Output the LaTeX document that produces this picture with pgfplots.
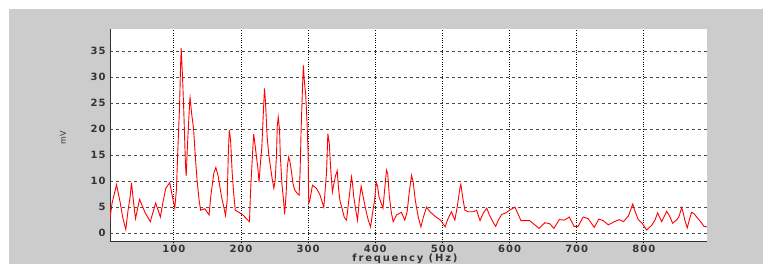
\documentclass[border=0pt]{standalone}
\usepackage{pgfplots}
\pgfplotsset{compat=1.18}
\usepackage{fontspec}
\setmainfont{Liberation Sans}
\newfontfamily\tickfont[LetterSpace=10]{DejaVu Sans}
\definecolor{bggray}{RGB}{204,204,204}
\begin{document}
\begin{tikzpicture}[x=1pt,y=1pt]
\useasboundingbox (0,0) rectangle (763,264);
\fill[white] (0,0) rectangle (763,264);
\fill[bggray] (9,0) rectangle (763,255);
\begin{axis}[
  at={(110pt,22pt)}, anchor=south west,
  scale only axis, width=597pt, height=213pt,
  xmin=5, xmax=894, ymin=-1.7, ymax=39.2,
  axis background/.style={fill=white},
  axis x line*=bottom, axis y line*=left,
  axis line style={-, line width=1pt, black!80},
  xtick={100,200,...,800}, ytick={0,5,...,35},
  major tick length=0pt,
  grid=major,
  major x grid style={black, dotted, line width=0.9pt},
  major y grid style={black!70, dashed, line width=0.7pt},
  tick label style={font=\tickfont\bfseries\fontsize{10}{12}\selectfont, text=black!80},
  /pgf/number format/assume math mode=true,
  xticklabel style={inner sep=0.5pt, yshift=-2.5pt},
  yticklabel style={xshift=-1pt},
  xlabel={frequency (Hz)},
  ylabel={mV},
  xlabel style={font=\tickfont\bfseries\fontsize{10}{12}\selectfont\addfontfeature{LetterSpace=18}, text=black!80, inner sep=0.5pt, at={(axis description cs:0.494,0)}, anchor=base, yshift=-19.3pt},
  ylabel style={font=\tickfont\fontsize{8}{10}\selectfont, text=black!80, at={(axis description cs:0,0.49)}, anchor=center, yshift=47pt},
]
\addplot[red, line width=0.9pt] coordinates {
(5,2.5)(6,3.8)(8,5.7)(14.7,9.3)(20,6)(24,3)(28.5,0.7)(32,4.5)(35,7)(37,9.7)(40,6)(43,2.8)(49,6.5)(57,4)(65,2.2)(73,5.8)(80,3.1)(84,6)(88,8.6)(94,9.7)(99,6.3)(101.5,4.8)(104,8.5)(106,16)(108.5,24)(110,31.6)(111,35.5)(113,30)(115,23)(117.4,13)(118.5,11)(119.7,15)(121.5,19.8)(123.8,25.5)(124.3,26)(126.5,23)(129.5,20)(132,14.8)(134.6,10.3)(137.7,6.3)(140,4.4)(146,4.7)(152.6,3.5)(155,7)(159.6,11.5)(162.6,12.6)(166,11)(171,7)(174.5,5)(177,3.4)(179.5,6.3)(181,14.6)(182.6,19.8)(184.5,18)(187,11.5)(189,8)(191.5,4.4)(198,3.9)(202.8,3.5)(212.7,2.2)(214,7)(215,9.8)(217.7,16.3)(219,19)(221,17)(222.6,15.2)(225,12.7)(227,9.8)(229,13.5)(231,16.3)(232.5,20.7)(235,27.8)(236.5,25.3)(239,18.5)(241.5,15)(244,12.7)(246.4,10.5)(249,8.6)(251,10.2)(253,15.2)(254,20.4)(255.5,22.3)(257.5,19.8)(258.5,15.2)(261,9.5)(263.5,6.2)(265,3.6)(267.3,7.6)(269,12.7)(271,14.6)(273,13.7)(275,12)(277.5,9.5)(280,8.3)(284,7.6)(286.6,7.3)(288,11.5)(289.6,19.8)(291.6,27.8)(293,32.2)(294.5,29)(296.5,26.5)(298.5,21)(300,15.3)(301,5.7)(302.6,6.3)(306.5,9.2)(312.5,8.6)(317.5,7.4)(323.4,5)(327.4,11.5)(329.4,19.1)(331.5,17.3)(333.8,12)(336.2,7.9)(338,9.2)(340.8,11)(343.3,12)(345.3,8.6)(347.3,6.3)(350.5,4.8)(353.7,3.1)(357.2,2.5)(360.6,6.3)(364.6,10.8)(366,9.7)(368,7)(371,4.4)(373.6,2.5)(376,6)(379,9)(382,7)(386,4.4)(389.6,2.5)(393,1.2)(396,3.9)(399,6.3)(401.4,9.7)(403.5,9)(405.5,7)(409,5.7)(411.5,4.8)(414,8.4)(416.7,12.1)(418.5,11.5)(421,7)(424,3.9)(426.7,2.2)(431.7,3.5)(439,4)(444,2.5)(447.5,4.1)(450.5,7.7)(454,11.1)(456.5,9.8)(459.6,6.3)(464,3.1)(468,1.2)(471.7,3.1)(476.4,5)(481.4,4.1)(490.4,3.1)(497.3,2.5)(504,1.2)(508.4,2.8)(513.4,4.1)(518.5,2.5)(522,5)(526,8.6)(527.5,9.4)(530,7)(533.5,4.4)(538.5,4.1)(546,4.1)(551,4.4)(556,2.4)(561,3.9)(566,4.8)(570,3.5)(575,2.2)(579.3,1.3)(583.3,2.5)(588.3,3.6)(594.6,3.9)(600,4.4)(608,5)(617,2.4)(630,2.4)(644,0.9)(652.6,2)(660,1.8)(666,0.9)(674,2.6)(681.5,2.5)(689,3.1)(696,1.3)(702,1.3)(709.6,3.1)(717,2.8)(726,1.1)(733,2.7)(739.5,2.4)(747,1.6)(756,2.2)(763.5,2.6)(769.5,2.2)(777,3.3)(783.5,5.6)(786,4.5)(791.6,2.6)(798,1.8)(804,0.6)(811.5,1.5)(816.5,2.5)(820.5,3.9)(826.5,2.2)(834,4.2)(839,3.1)(842.7,1.9)(848.6,2.5)(852,3.1)(856.4,4.9)(858.5,3.9)(861,2.5)(864.6,1)(867.6,2.5)(871,4)(875,3.7)(878.5,3.1)(884.5,2.2)(889.5,1.3)(894,1.2)
};
\end{axis}
\end{tikzpicture}
\end{document}
